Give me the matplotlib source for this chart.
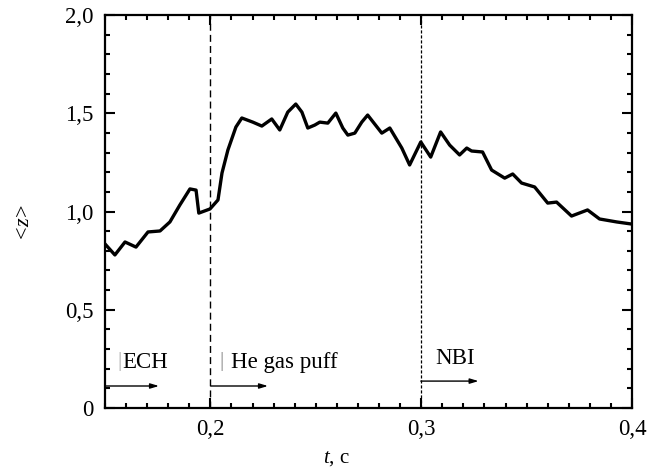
import matplotlib
matplotlib.use("Agg")
import matplotlib.pyplot as plt
from matplotlib.ticker import MultipleLocator, FixedLocator

# <z> time trace
t_s = [0.150, 0.1547, 0.1595, 0.1647, 0.1704, 0.1761, 0.1808, 0.1855, 0.1903,
       0.1932, 0.1945, 0.1998, 0.2036, 0.2055, 0.2083, 0.2121, 0.2149, 0.2201,
       0.2244, 0.2291, 0.2329, 0.2367, 0.2405, 0.2434, 0.2462, 0.2495, 0.2519,
       0.2557, 0.2595, 0.2628, 0.2652, 0.2685, 0.2718, 0.2746, 0.2813, 0.2851,
       0.2908, 0.2945, 0.2998, 0.3045, 0.3092, 0.3135, 0.3182, 0.3216, 0.3239,
       0.3291, 0.3334, 0.3396, 0.3434, 0.3476, 0.3538, 0.3600, 0.3642, 0.3713,
       0.3789, 0.3846, 0.3927, 0.4000]
z_mean = [0.835, 0.779, 0.845, 0.819, 0.896, 0.901, 0.947, 1.033, 1.115,
          1.109, 0.992, 1.013, 1.059, 1.196, 1.313, 1.430, 1.476, 1.455,
          1.435, 1.471, 1.415, 1.506, 1.547, 1.506, 1.425, 1.440, 1.455,
          1.450, 1.501, 1.425, 1.389, 1.399, 1.455, 1.491, 1.399, 1.425,
          1.323, 1.237, 1.354, 1.277, 1.405, 1.338, 1.288, 1.323, 1.308,
          1.303, 1.211, 1.170, 1.191, 1.145, 1.125, 1.043, 1.048, 0.977,
          1.008, 0.962, 0.947, 0.936]

event_times = [0.2, 0.3]
x_ticks = [0.2, 0.3, 0.4]
x_labels = ["0,2", "0,3", "0,4"]
y_ticks = [0.0, 0.5, 1.0, 1.5, 2.0]
y_labels = ["0", "0,5", "1,0", "1,5", "2,0"]

plt.rcParams["font.family"] = ["Liberation Serif", "DejaVu Serif"]
plt.rcParams["mathtext.fontset"] = "custom"
plt.rcParams["mathtext.rm"] = "Liberation Serif"
plt.rcParams["mathtext.it"] = "Liberation Serif:italic"

fig = plt.figure(figsize=(6.57, 4.70), dpi=100)
ax = fig.add_axes([0.1598, 0.1319, 0.8022, 0.8361])

ax.plot(t_s, z_mean, color="black", lw=2.4, solid_joinstyle="round")

# event markers
ax.axvline(event_times[0], color="black", lw=1.0, ls=(0, (5, 3)))
ax.axvline(event_times[1], color="black", lw=0.9, ls=(0, (2.5, 1.5)))

arrow = dict(arrowstyle="-|>,head_length=0.5,head_width=0.15", color="black",
             lw=1.0, shrinkA=0, shrinkB=0)
ax.annotate("", xy=(0.1756, 0.112), xytext=(0.150, 0.112), arrowprops=arrow)
ax.annotate("", xy=(0.2273, 0.112), xytext=(0.2002, 0.112), arrowprops=arrow)
ax.annotate("", xy=(0.3272, 0.137), xytext=(0.2998, 0.137), arrowprops=arrow)

ax.text(0.1571, 0.235, "|", color="#aaaaaa", fontsize=15, ha="center", va="center")
ax.text(0.1580, 0.232, "ECH", fontsize=16.5, ha="left", va="center")
ax.text(0.2055, 0.237, "|", color="#888888", fontsize=15, ha="center", va="center")
ax.text(0.2097, 0.234, "He gas puff", fontsize=16.5, ha="left", va="center")
ax.text(0.3069, 0.254, "NBI", fontsize=16.5, ha="left", va="center")

ax.set_xlim(0.15, 0.4)
ax.set_ylim(0, 2.0)
ax.xaxis.set_major_locator(FixedLocator(x_ticks))
ax.set_xticklabels(x_labels)
ax.xaxis.set_minor_locator(MultipleLocator(0.01))
ax.yaxis.set_major_locator(FixedLocator(y_ticks))
ax.set_yticklabels(y_labels)
ax.yaxis.set_minor_locator(MultipleLocator(0.1))

ax.tick_params(which="both", direction="in", top=True, right=True, width=1.5,
               labelsize=16.5)
ax.tick_params(which="major", length=7, pad=8)
ax.tick_params(which="minor", length=3.5)
for s in ax.spines.values():
    s.set_linewidth(1.6)

ax.set_xlabel(r"$t$, c", fontsize=15)
ax.xaxis.set_label_coords(0.44, -0.105)
ax.set_ylabel(r"$<\!z\!>$", fontsize=16)
ax.yaxis.set_label_coords(-0.135, 0.47)

fig.savefig("out.png", dpi=100)
